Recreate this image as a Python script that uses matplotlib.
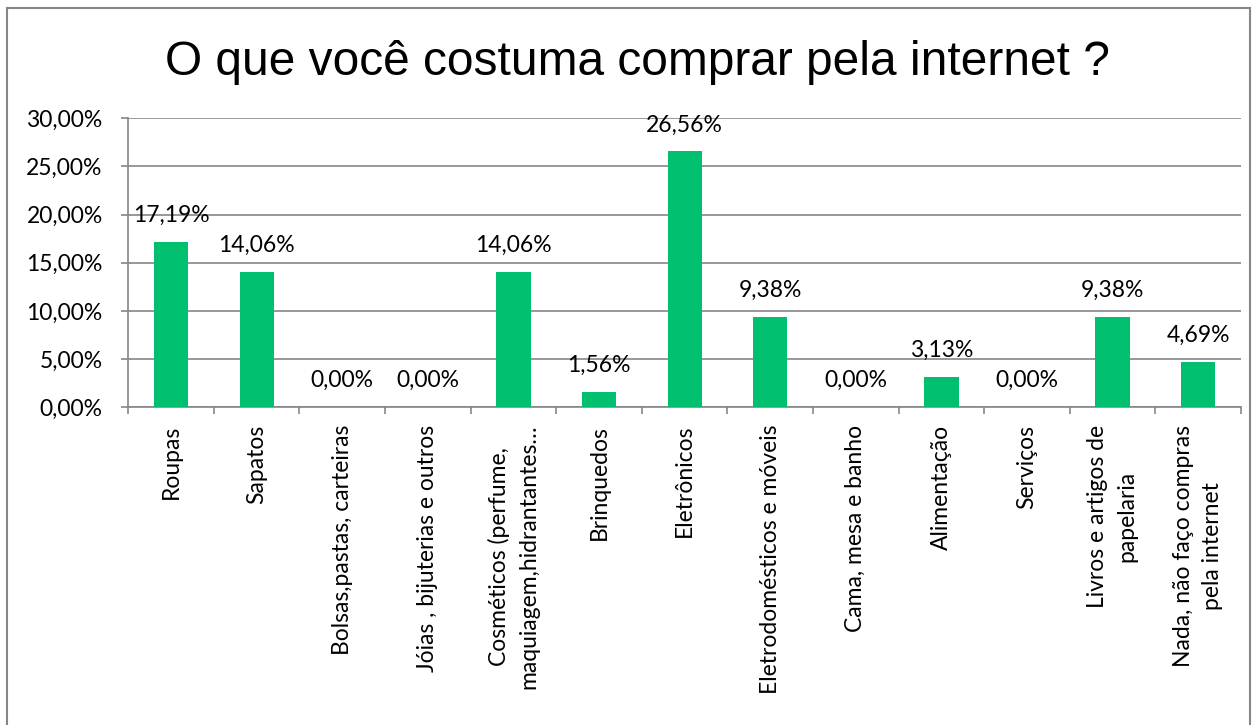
import matplotlib
matplotlib.use("Agg")
import matplotlib.pyplot as plt
import matplotlib.ticker as mtick
from matplotlib.patches import Rectangle

categories = [
    "Roupas",
    "Sapatos",
    "Bolsas,pastas, carteiras",
    "Jóias , bijuterias e outros",
    "Cosméticos (perfume,\nmaquiagem,hidrantantes…",
    "Brinquedos",
    "Eletrônicos",
    "Eletrodomésticos e móveis",
    "Cama, mesa e banho",
    "Alimentação",
    "Serviços",
    "Livros e artigos de\npapelaria",
    "Nada, não faço compras\npela internet",
]
values = [17.19, 14.06, 0.00, 0.00, 14.06, 1.56, 26.56, 9.38, 0.00, 3.13, 0.00, 9.38, 4.69]
yticks = [0, 5, 10, 15, 20, 25, 30]

green = "#00BF6F"
grid = "#868686"
label_font = ["Lato", "DejaVu Sans"]
fs = 16.5
W, H = 1257, 725

fig = plt.figure(figsize=(W / 100, H / 100), dpi=100)
ax = fig.add_axes([128.3 / W, 1 - 407.3 / H, (1241 - 128.3) / W, (407.3 - 118.3) / H])

x = list(range(len(categories)))
bars = ax.bar(x, values, width=0.4, color=green, zorder=3)

# percentage labels above each bar
for xi, v in zip(x, values):
    ax.annotate(f"{v:.2f}%".replace(".", ","), (xi, v), xytext=(0, 20), textcoords="offset pixels",
                ha="center", va="baseline", fontsize=fs, family=label_font)

ax.set_xlim(-0.5, len(categories) - 0.5)
ax.set_ylim(0, 30)
ax.set_yticks(yticks)
ax.yaxis.set_major_formatter(mtick.FuncFormatter(lambda v, p: f"{v:.2f}%".replace(".", ",")))
ax.grid(axis="y", color=grid, linewidth=1.2, zorder=0)

# category ticks sit between the bars
ax.set_xticks([i - 0.5 for i in range(len(categories) + 1)])
ax.set_xticklabels([])
ax.set_xticks(x, minor=True)
ax.set_xticklabels(categories, minor=True, rotation=90, ha="center", va="top",
                   multialignment="center", fontsize=fs, family=label_font, linespacing=1.5)
ax.tick_params(axis="x", which="minor", length=0, pad=12.5)
ax.tick_params(axis="x", which="major", length=5, color=grid, width=1.2)
ax.tick_params(axis="y", length=5.4, color=grid, width=1.2, pad=13, labelsize=fs)
for t in ax.get_yticklabels():
    t.set_family(label_font)

for side in ["top", "right"]:
    ax.spines[side].set_visible(False)
for side in ["left", "bottom"]:
    ax.spines[side].set_color(grid)
    ax.spines[side].set_linewidth(1.2)

fig.text(637.5 / W, 1 - 75 / H, "O que você costuma comprar pela internet ?", ha="center", va="baseline",
         fontsize=34.5, family="Liberation Sans")

# chart area border, open at the bottom edge of the image
fig.patches.append(Rectangle((6.7 / W, -10 / H), (1250 - 6.7) / W, (10 + H - 8) / H, transform=fig.transFigure,
                             fill=False, edgecolor=grid, linewidth=1.5))

fig.savefig("out.png", dpi=100)
